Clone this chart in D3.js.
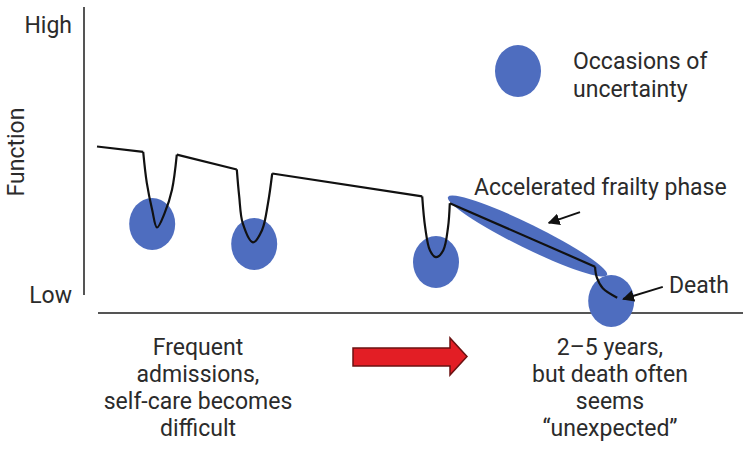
<!DOCTYPE html>
<html>
<head>
<meta charset="utf-8">
<script src="https://cdn.jsdelivr.net/npm/d3@7"></script>
<style>
  body { margin: 0; background: #fff; }
  text { font-family: Roboto, "Noto Sans", sans-serif; fill: #2b2b2b; }
</style>
</head>
<body>
<div id="chart"></div>
<script>
const w = 743; //Width
const h = 450; //Height

// function trajectory (time 0-100, function 0 = Low .. 100 = High)
const plateaus = [
  [[0, 55], [7.7, 53]],
  [[13.3, 52], [23.3, 46.5]],
  [[29.2, 45], [54.2, 36.5]],
  [[58.8, 34], [83, 10.5]]
];
const dips = [
  [[7.7, 53], [8.3, 41.5], [9.2, 31.5], [10, 25], [11.3, 30.5], [12.5, 39], [13.3, 52]],
  [[23.3, 46.5], [23.7, 36.5], [24.3, 26.5], [26, 19.5], [27.5, 24], [28.5, 34], [29.2, 45]],
  [[54.2, 36.5], [54.7, 25], [55.5, 16.5], [56.5, 14], [57.7, 16.5], [58.5, 25], [58.8, 34]],
  [[83, 10.5], [83.3, 6.5], [84.3, 2.5], [86.7, -1]]
];
// occasions of uncertainty
const occasions = [[9.2, 26.3], [26.2, 18.9], [56.5, 12.2], [85.7, -2.2]];
// accelerated frailty phase (start, end)
const frailty = [[58.5, 36.3], [85, 7.4]];
// annotation arrows (from, to)
const frailtyArrow = [[80.5, 30.7], [75.3, 26.7]];
const deathArrow = [[94.3, 3], [87.7, -1.5]];

const yLabels = ["Low", "High"];
const leftText = ["Frequent", "admissions,", "self-care becomes", "difficult"];
const rightText = ["2\u20135 years,", "but death often", "seems", "\u201cunexpected\u201d"];

const xScale = d3.scaleLinear().domain([0, 100]).range([97, 697]);
const yScale = d3.scaleLinear().domain([0, 100]).range([295, 25]);

const fs = "23px";

const svg = d3.select("#chart").append("svg")
  .attr("width", w).attr("height", h);

const defs = svg.append("defs");
defs.append("marker")
  .attr("id", "head")
  .attr("viewBox", "0 0 10 10")
  .attr("refX", 9).attr("refY", 5)
  .attr("markerWidth", 6).attr("markerHeight", 6)
  .attr("markerUnits", "strokeWidth")
  .attr("orient", "auto")
  .append("path")
  .attr("d", "M0,0 L10,5 L0,10 z")
  .attr("fill", "#111");

//Y axis (labels only)
const yAxis = d3.axisLeft(yScale)
  .tickValues([0, 100])
  .tickSize(0)
  .tickPadding(12)
  .tickFormat(d => d === 0 ? yLabels[0] : yLabels[1]);

const gy = svg.append("g")
  .attr("transform", "translate(84,0)")
  .call(yAxis);
gy.select(".domain").remove();
gy.selectAll("text")
  .style("font-family", "Roboto, sans-serif")
  .style("font-size", fs)
  .attr("fill", "#2b2b2b");

svg.append("line")
  .attr("x1", 84).attr("x2", 84)
  .attr("y1", 7).attr("y2", yScale(0))
  .attr("stroke", "#555").attr("stroke-width", 2);

//X axis line
svg.append("line")
  .attr("x1", xScale(0) + 1).attr("x2", w)
  .attr("y1", 313).attr("y2", 313)
  .attr("stroke", "#555").attr("stroke-width", 2);

svg.append("text")
  .attr("transform", "translate(24,152) rotate(-90)")
  .attr("text-anchor", "middle")
  .style("font-size", fs)
  .text("Function");

const blue = "#4e6dbf";

//Occasions
svg.selectAll(".occ")
  .data(occasions)
  .enter().append("ellipse")
  .attr("class", "occ")
  .attr("cx", d => xScale(d[0]))
  .attr("cy", d => yScale(d[1]))
  .attr("rx", 23).attr("ry", 26)
  .attr("fill", blue);

//Accelerated frailty phase ellipse
const fx0 = xScale(frailty[0][0]), fy0 = yScale(frailty[0][1]);
const fx1 = xScale(frailty[1][0]), fy1 = yScale(frailty[1][1]);
const fLen = Math.hypot(fx1 - fx0, fy1 - fy0);
const fAng = Math.atan2(fy1 - fy0, fx1 - fx0) * 180 / Math.PI;
svg.append("ellipse")
  .attr("transform", `translate(${(fx0 + fx1) / 2},${(fy0 + fy1) / 2}) rotate(${fAng})`)
  .attr("rx", fLen / 2).attr("ry", 12)
  .attr("fill", blue);

//Trajectory
const straight = d3.line()
  .x(d => xScale(d[0])).y(d => yScale(d[1]));
const curved = d3.line()
  .x(d => xScale(d[0])).y(d => yScale(d[1]))
  .curve(d3.curveCatmullRom.alpha(0.5));

plateaus.forEach(p => {
  svg.append("path").attr("d", straight(p))
    .attr("fill", "none").attr("stroke", "#111").attr("stroke-width", 2.2);
});
dips.forEach(p => {
  svg.append("path").attr("d", curved(p))
    .attr("fill", "none").attr("stroke", "#111").attr("stroke-width", 2.2)
    .attr("stroke-linejoin", "round");
});

//Annotation arrows
[frailtyArrow, deathArrow].forEach(a => {
  svg.append("line")
    .attr("x1", xScale(a[0][0])).attr("y1", yScale(a[0][1]))
    .attr("x2", xScale(a[1][0])).attr("y2", yScale(a[1][1]))
    .attr("stroke", "#111").attr("stroke-width", 2)
    .attr("marker-end", "url(#head)");
});

svg.append("text").attr("x", 474).attr("y", 195)
  .style("font-size", fs).text("Accelerated frailty phase");
svg.append("text").attr("x", 669).attr("y", 293)
  .style("font-size", fs).text("Death");

//Legend
svg.append("ellipse")
  .attr("cx", 518).attr("cy", 71).attr("rx", 23).attr("ry", 26)
  .attr("fill", blue);
svg.append("text").attr("x", 573).attr("y", 69)
  .style("font-size", fs).text("Occasions of");
svg.append("text").attr("x", 573).attr("y", 97)
  .style("font-size", fs).text("uncertainty");

//Bottom texts
svg.append("g").selectAll("text")
  .data(leftText).enter().append("text")
  .attr("x", 198).attr("y", (d, i) => 355 + i * 27)
  .attr("text-anchor", "middle")
  .style("font-size", fs)
  .text(d => d);

svg.append("g").selectAll("text")
  .data(rightText).enter().append("text")
  .attr("x", 610).attr("y", (d, i) => 355 + i * 27)
  .attr("text-anchor", "middle")
  .style("font-size", fs)
  .text(d => d);

//Red arrow
svg.append("path")
  .attr("d", "M353,348 L450,348 L450,338 L467,356.5 L450,375 L450,366 L353,366 Z")
  .attr("fill", "#e31e25")
  .attr("stroke", "#6b1212")
  .attr("stroke-width", 1.5);
</script>
</body>
</html>
